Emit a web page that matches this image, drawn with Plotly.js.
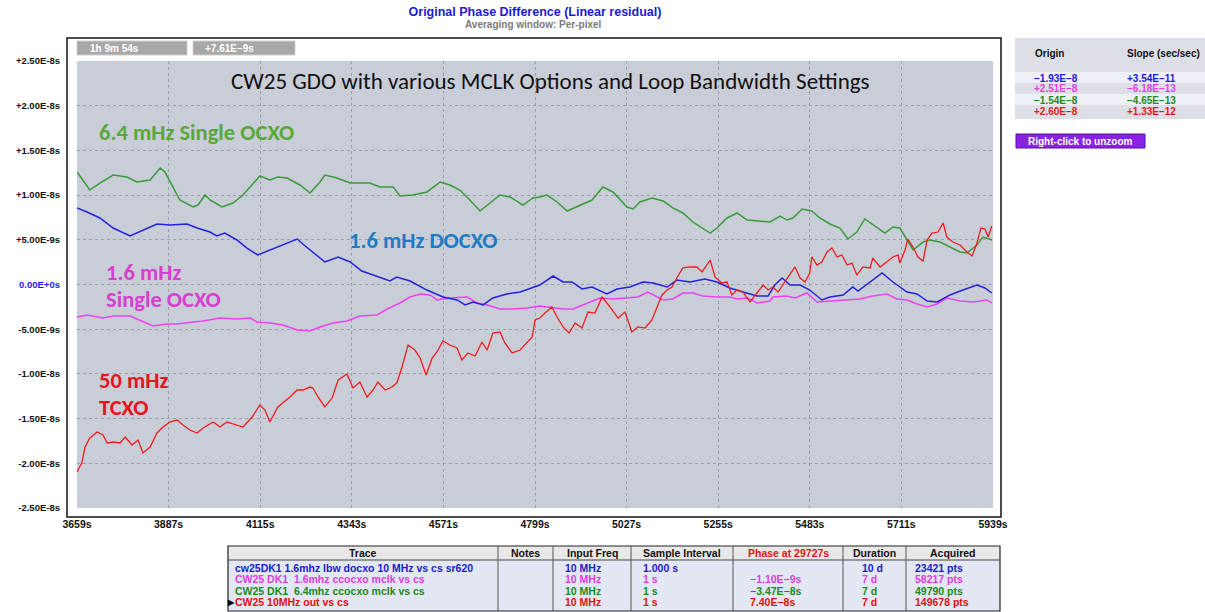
<!DOCTYPE html>
<html>
<head>
<meta charset="utf-8">
<script src="https://cdn.plot.ly/plotly-3.0.1.min.js"></script>
<style>html,body{margin:0;padding:0;background:#fff;}#chart{width:1205px;height:612px;}</style>
</head>
<body>
<div id="chart"></div>
<script>
// ---- data (time in seconds, phase residual in nanoseconds) ----
const greenT = [3659,3691,3716,3749,3783,3808,3841,3866,3878,3898,3915,3948,3960,3978,3990,4020,4047,4072,4095,4114,4139,4159,4182,4214,4239,4264,4276,4306,4339,4388,4413,4446,4463,4495,4530,4563,4587,4612,4637,4662,4687,4712,4737,4769,4794,4811,4829,4854,4879,4911,4941,4968,4993,5028,5043,5060,5090,5118,5142,5167,5192,5235,5252,5277,5302,5327,5359,5384,5409,5426,5441,5464,5488,5508,5533,5558,5578,5600,5620,5645,5670,5690,5707,5725,5740,5765,5782,5807,5832,5857,5874,5899,5914,5937];
const greenNs = [12.58,10.57,11.35,12.25,12.02,11.47,11.69,13.03,12.58,10.91,9.45,8.67,8.89,10.01,9.45,8.67,9.12,10.01,11.13,12.14,11.69,12.02,11.91,11.13,10.23,11.47,12.25,11.91,11.35,11.35,10.91,10.91,9.90,10.01,10.35,11.47,11.13,10.57,9.45,8.22,9.12,10.01,9.79,8.89,9.68,9.79,10.01,9.23,8.22,8.89,9.45,10.91,10.35,8.67,8.45,9.23,9.68,9.34,8.56,8.00,6.99,5.76,6.32,7.44,8.00,7.21,7.10,6.99,7.66,7.21,7.44,8.45,8.22,7.44,6.77,6.32,5.09,5.87,7.33,6.54,5.76,6.43,6.32,4.98,3.86,4.75,4.98,4.75,4.19,3.64,3.52,4.42,5.31,4.98];

const blueT = [3659,3684,3716,3749,3791,3823,3858,3890,3933,3958,3990,4007,4027,4057,4082,4109,4139,4172,4207,4221,4246,4276,4309,4339,4368,4406,4438,4455,4488,4530,4570,4605,4625,4645,4670,4694,4729,4762,4794,4811,4844,4869,4891,4916,4941,4978,5003,5035,5068,5093,5128,5152,5185,5222,5252,5284,5317,5352,5379,5396,5414,5434,5459,5483,5513,5533,5566,5590,5603,5633,5663,5690,5725,5750,5775,5800,5832,5864,5899,5919,5936];
const blueNs = [8.56,8.11,7.44,6.32,5.43,6.10,6.77,6.66,6.77,6.32,5.87,5.43,5.76,4.98,4.08,3.30,3.86,4.42,5.09,4.53,3.64,2.52,3.08,2.52,1.51,0.95,0.39,0.84,0.39,-0.62,-1.40,-1.73,-2.29,-1.96,-2.29,-1.51,-1.06,-0.84,-0.28,-0.06,0.95,0.28,0.28,-0.50,-0.28,-1.06,-0.50,-0.28,0.28,0.17,-0.28,0.50,0.28,0.62,0.28,-0.39,-0.84,-1.29,-1.29,-0.06,0.73,-0.06,-0.06,-0.62,-1.73,-1.40,-1.17,-0.28,-0.73,0.28,1.29,0.28,-0.84,-1.06,-1.85,-1.96,-1.17,-0.62,-0.06,-0.39,-0.95];

const magentaT = [3659,3684,3724,3749,3791,3823,3848,3883,3908,3948,3973,4015,4057,4090,4107,4139,4172,4207,4239,4264,4296,4331,4363,4406,4431,4463,4488,4513,4538,4555,4587,4630,4655,4680,4712,4744,4779,4811,4836,4869,4894,4928,4961,4993,5028,5055,5080,5103,5118,5142,5167,5192,5217,5252,5284,5302,5327,5352,5384,5391,5426,5446,5476,5501,5533,5566,5608,5640,5675,5700,5725,5750,5775,5800,5824,5857,5889,5924,5936];
const magentaNs = [-3.64,-3.41,-3.75,-3.52,-3.52,-4.19,-4.64,-4.42,-4.42,-4.19,-4.08,-3.75,-3.86,-3.75,-4.19,-4.31,-4.53,-5.09,-5.20,-4.75,-4.31,-4.08,-3.52,-3.41,-2.74,-2.07,-1.40,-1.06,-1.17,-1.73,-1.51,-1.40,-2.07,-2.29,-2.74,-2.74,-2.63,-2.40,-2.52,-2.74,-2.74,-2.07,-1.51,-1.62,-1.51,-1.40,-0.84,-1.40,-1.73,-1.62,-0.95,-0.95,-1.29,-1.40,-1.40,-1.62,-1.51,-2.07,-1.85,-1.40,-1.29,-1.51,-0.95,-1.96,-1.85,-1.73,-1.62,-1.29,-1.06,-1.62,-1.73,-2.18,-2.52,-2.18,-1.51,-1.85,-1.96,-1.73,-2.07];

const redT = [3659,3671,3679,3691,3709,3724,3734,3749,3766,3779,3796,3811,3823,3841,3858,3873,3890,3908,3923,3940,3958,3973,3998,4015,4032,4057,4072,4095,4114,4127,4139,4159,4172,4189,4207,4221,4239,4246,4259,4276,4294,4309,4331,4346,4363,4381,4396,4408,4426,4443,4455,4468,4483,4500,4513,4528,4543,4555,4570,4587,4605,4617,4632,4650,4667,4680,4694,4712,4724,4742,4762,4779,4792,4799,4811,4824,4841,4854,4869,4884,4899,4916,4931,4948,4966,4986,5006,5023,5040,5055,5073,5090,5103,5115,5128,5140,5152,5167,5185,5202,5215,5227,5235,5247,5264,5277,5289,5302,5317,5334,5352,5367,5379,5391,5404,5421,5439,5446,5459,5471,5483,5488,5501,5513,5526,5538,5551,5563,5576,5588,5600,5615,5633,5640,5658,5675,5690,5703,5707,5720,5727,5740,5752,5765,5775,5787,5802,5815,5824,5839,5857,5874,5887,5899,5909,5919,5927,5936];
const redNs = [-20.97,-19.97,-18.18,-17.17,-16.50,-16.83,-17.73,-17.62,-17.73,-17.06,-17.95,-17.39,-18.85,-18.18,-16.61,-15.94,-15.38,-15.16,-15.72,-16.28,-16.61,-16.05,-15.38,-15.94,-15.38,-15.72,-15.94,-14.82,-13.48,-14.04,-15.38,-13.70,-13.26,-12.58,-11.80,-11.80,-11.47,-11.58,-12.58,-13.70,-12.70,-10.68,-10.01,-11.58,-10.91,-12.58,-11.80,-10.91,-11.80,-11.47,-11.02,-9.23,-6.77,-7.33,-8.22,-10.12,-8.22,-7.55,-6.32,-6.77,-7.10,-8.45,-7.66,-8.00,-6.43,-7.33,-5.43,-5.31,-6.54,-7.66,-7.33,-6.54,-5.87,-3.97,-3.75,-3.19,-2.52,-3.64,-4.75,-5.43,-4.31,-4.87,-3.08,-3.19,-1.40,-2.52,-3.75,-3.08,-5.31,-4.75,-4.87,-3.97,-2.52,-1.17,-0.62,-0.28,0.73,1.85,1.96,1.96,1.40,2.18,2.74,0.84,0.17,0.28,-1.17,-0.62,-0.84,-1.96,-0.95,-0.06,-0.62,-0.28,-0.84,0.28,1.40,1.96,0.73,0.28,1.29,3.08,2.18,2.52,3.64,4.08,3.08,3.30,2.18,2.40,1.06,1.96,1.85,2.96,1.96,2.52,3.08,3.30,2.40,3.86,5.09,4.19,3.08,2.63,4.98,5.76,5.87,6.88,5.31,4.75,4.42,3.64,3.19,4.64,6.32,6.21,5.31,6.54];

const xTickVals = [3659,3887,4115,4343,4571,4799,5027,5255,5483,5711,5939];
const xTickText = ["3659s","3887s","4115s","4343s","4571s","4799s","5027s","5255s","5483s","5711s","5939s"];
const yTickVals = [2.5e-8,2.0e-8,1.5e-8,1.0e-8,5.0e-9,0,-5.0e-9,-1.0e-8,-1.5e-8,-2.0e-8,-2.5e-8];
const yTickText = ["+2.50E-8s","+2.00E-8s","+1.50E-8s","+1.00E-8s","+5.00E-9s",'<span style="color:#1a1af0">0.00E+0s</span>',"-5.00E-9s","-1.00E-8s","-1.50E-8s","-2.00E-8s","-2.50E-8s"];

const seriesColors = {blue:"#2222dd", magenta:"#f040f0", green:"#3a9a3a", red:"#f01c1c"};

// right-hand fit table
const fitOrigin = ["\u22121.93E\u22128","+2.51E\u22128","\u22121.54E\u22128","+2.60E\u22128"];
const fitSlope  = ["+3.54E\u221211","\u22126.18E\u221213","\u22124.65E\u221213","+1.33E\u221212"];
const fitColors = ["#1a1ae0","#e83ce8","#1f8a1f","#e81818"];

// bottom trace table
const tableHeaders = ["Trace","Notes","Input Freq","Sample Interval","Phase at 29727s","Duration","Acquired"];
const traceNames = ["cw25DK1 1.6mhz lbw docxo 10 MHz vs cs sr620","CW25 DK1  1.6mhz ccocxo mclk vs cs","CW25 DK1  6.4mhz ccocxo mclk vs cs","CW25 10MHz out vs cs"];
const inputFreq = ["10 MHz","10 MHz","10 MHz","10 MHz"];
const sampleInterval = ["1.000 s","1 s","1 s","1 s"];
const phaseAt = ["","\u22121.10E\u22129s","\u22123.47E\u22128s","7.40E\u22128s"];
const durations = ["10 d","7 d","7 d","7 d"];
const acquired = ["23421 pts","58217 pts","49790 pts","149678 pts"];
const tableColors = ["#1a1ad0","#e03ce0","#1a8a1a","#e01010"];

// ---- geometry helpers (pixel -> paper) ----
const L = 77, R = 993, T = 61, B = 508;
const px = x => (x - L) / (R - L);
const py = y => (B - y) / (B - T);
const AR = "Liberation Sans, Arial, sans-serif";
const CAL = "Carlito, Lato, Calibri, sans-serif";

const ns = arr => arr.map(v => v * 1e-9);
const mk = (t, v, c, w) => ({x: t, y: ns(v), type: "scatter", mode: "lines", line: {color: c, width: w}, hoverinfo: "skip"});
const traces = [
  mk(greenT, greenNs, seriesColors.green, 1.5),
  mk(magentaT, magentaNs, seriesColors.magenta, 1.5),
  mk(blueT, blueNs, seriesColors.blue, 1.5),
  mk(redT, redNs, seriesColors.red, 1.3)
];

const shapes = [];
const ann = [];
function rect(x0, y0, x1, y1, fill, lineColor, lw) {
  shapes.push({type: "rect", xref: "paper", yref: "paper", x0: px(x0), x1: px(x1), y0: py(y1), y1: py(y0),
    fillcolor: fill || "rgba(0,0,0,0)", line: {color: lineColor || "rgba(0,0,0,0)", width: lw === undefined ? 1 : lw}, layer: "above"});
}
function line(x0, y0, x1, y1, c, w) {
  shapes.push({type: "line", xref: "paper", yref: "paper", x0: px(x0), x1: px(x1), y0: py(y0), y1: py(y1), line: {color: c, width: w || 1}, layer: "above"});
}
function txt(x, y, s, opt) {
  opt = opt || {};
  ann.push({xref: "paper", yref: "paper", x: px(x), y: py(y), text: s, showarrow: false,
    xanchor: opt.xa || "left", yanchor: "middle",
    font: {family: opt.family || AR, size: opt.size || 10, color: opt.color || "#111", weight: opt.weight || "bold"}});
}

// outer frame of plot
rect(67, 38, 1001, 517, null, "#111", 1.5);
// top-left info boxes
rect(77, 41, 187, 55, "#a8a8a8", "#cfcfcf", 1);
rect(193, 41, 295, 55, "#a8a8a8", "#cfcfcf", 1);
txt(88, 48.5, "1h 9m 54s", {color: "#ffffff", size: 10});
txt(203, 48.5, "+7.61E\u22129s", {color: "#ffffff", size: 10});

// chart-internal annotations
txt(550, 81, "CW25 GDO with various MCLK Options and Loop Bandwidth Settings", {xa: "center", family: CAL, size: 23, color: "#111", weight: "normal"});
txt(97, 132, "6.4 mHz Single OCXO", {family: CAL, size: 22.5, color: "#5aa83a"});
txt(347, 240, "1.6 mHz DOCXO", {family: CAL, size: 22.5, color: "#1f7bc4"});
txt(104, 272, "1.6 mHz", {family: CAL, size: 22.5, color: "#d83fd0"});
txt(104, 299, "Single OCXO", {family: CAL, size: 22.5, color: "#d83fd0"});
txt(97, 381, "50 mHz", {family: CAL, size: 22.5, color: "#e8141c"});
txt(97, 407, "TCXO", {family: CAL, size: 22.5, color: "#e8141c"});

// right-hand fit panel
rect(1015, 38, 1215, 119, "#dcdfe6", null, 0);
const rowFill = ["#eef0f8", "#dcdfe6", "#eef0f8", "#dcdfe6"];
for (let i = 0; i < 4; i++) rect(1015, 72 + i * 11, 1215, 83 + i * 11, rowFill[i], null, 0);
txt(1033, 54, "Origin", {size: 10});
txt(1125, 54, "Slope (sec/sec)", {size: 10});
for (let i = 0; i < 4; i++) {
  txt(1032, 78 + i * 11, fitOrigin[i], {color: fitColors[i], size: 10});
  txt(1125, 78 + i * 11, fitSlope[i], {color: fitColors[i], size: 10});
}
rect(1016, 134, 1145, 148, "#8a22e6", "#5a0fa0", 1);
txt(1080.5, 141, "Right-click to unzoom", {xa: "center", color: "#ffffff", size: 10});

// bottom trace table
const colX = [228, 498, 553, 631, 733, 843, 906, 1000];
rect(228, 546, 1000, 560, "#e8e8e8", null, 0);
rect(228, 560, 1000, 611, "#e2e7f3", null, 0);
rect(228, 546, 1000, 611, null, "#222", 1.2);
line(228, 560, 1000, 560, "#444", 1);
for (let i = 1; i < colX.length - 1; i++) line(colX[i], 546, colX[i], 611, "#555", 1);
for (let i = 0; i < tableHeaders.length; i++) {
  txt((colX[i] + colX[i + 1]) / 2, 553, tableHeaders[i], {xa: "center", size: 10.5, color: i === 4 ? "#ee1111" : "#111"});
}
for (let r = 0; r < 4; r++) {
  const y = 568 + r * 11.3, c = tableColors[r];
  txt(233, y, traceNames[r], {color: c, size: 10.5});
  txt(563, y, inputFreq[r], {color: c, size: 10.5});
  txt(641, y, sampleInterval[r], {color: c, size: 10.5});
  txt(748, y, phaseAt[r], {color: c, size: 10.5});
  txt(860, y, durations[r], {color: c, size: 10.5});
  txt(913, y, acquired[r], {color: c, size: 10.5});
}
txt(225, 602, "\u25B6", {size: 8, color: "#000"});

// subtitle
txt(533, 24, "Averaging window: Per-pixel", {xa: "center", size: 10, color: "#7a7a7a"});

const gridStyle = {showgrid: true, gridcolor: "#9aa0aa", griddash: "dot", gridwidth: 1};

const layout = {
  width: 1205, height: 612,
  margin: {l: L, r: 1205 - R, t: T, b: 612 - B, pad: 0},
  paper_bgcolor: "#ffffff",
  plot_bgcolor: "#c9cdd8",
  showlegend: false,
  title: {text: "Original Phase Difference (Linear residual)", x: 535 / 1205, xanchor: "center", xref: "container",
    y: 1 - 12 / 612, yanchor: "middle", yref: "container",
    font: {family: AR, size: 12.5, color: "#1a1ad6", weight: "bold"}},
  xaxis: Object.assign({range: [3659, 5939], tickvals: xTickVals, ticktext: xTickText, zeroline: false, showline: false,
    ticks: "", ticklabelstandoff: 8, tickfont: {family: AR, size: 10.5, color: "#111", weight: "bold"}}, gridStyle),
  yaxis: Object.assign({range: [-2.5e-8, 2.5e-8], tickvals: yTickVals, ticktext: yTickText, zeroline: false, showline: false,
    ticks: "", ticklabelstandoff: 16, tickfont: {family: AR, size: 9.5, color: "#111", weight: "bold"}}, gridStyle),
  shapes: shapes,
  annotations: ann
};

Plotly.newPlot("chart", traces, layout, {displayModeBar: false, staticPlot: true});
</script>
</body>
</html>
